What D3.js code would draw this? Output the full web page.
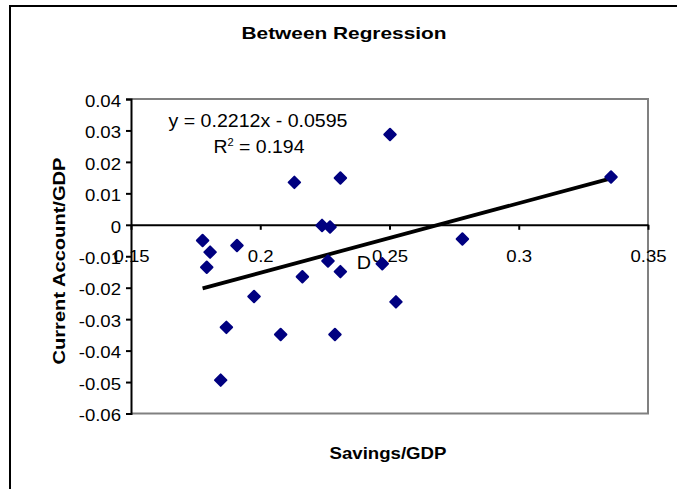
<!DOCTYPE html>
<html>
<head>
<meta charset="utf-8">
<script src="https://cdn.jsdelivr.net/npm/d3@7"></script>
<style>
  html, body { margin: 0; padding: 0; background: #fff; }
  svg { display: block; font-family: "Liberation Sans", Arial, sans-serif; }
</style>
</head>
<body>
<svg id="chart" width="677" height="489"></svg>
<script>
// ---- data ----
const savings = [0.2502, 0.3357, 0.2132, 0.2310, 0.2239, 0.2270, 0.1777, 0.1806, 0.1910, 0.1793, 0.2262,
                 0.2310, 0.2472, 0.2163, 0.1976, 0.2525, 0.1869, 0.2079, 0.2289, 0.1847, 0.2782];
const currentAccount = [0.0287, 0.0152, 0.0135, 0.0149, -0.0002, -0.0007, -0.0050, -0.0087, -0.0066, -0.0135, -0.0115,
                        -0.0149, -0.0124, -0.0165, -0.0228, -0.0245, -0.0326, -0.0349, -0.0349, -0.0494, -0.0045];
const xTicks = [0.15, 0.2, 0.25, 0.3, 0.35];
const xTickLabels = ["0.15", "0.2", "0.25", "0.3", "0.35"];
const yTicks = [0.04, 0.03, 0.02, 0.01, 0, -0.01, -0.02, -0.03, -0.04, -0.05, -0.06];
const yTickLabels = ["0.04", "0.03", "0.02", "0.01", "0", "-0.01", "-0.02", "-0.03", "-0.04", "-0.05", "-0.06"];
const trendSlope = 0.2212;
const trendIntercept = -0.0595;
const rSquared = "0.194";
const chartTitle = "Between Regression";
const xTitle = "Savings/GDP";
const yTitle = "Current Account/GDP";

const points = savings.map((s, i) => ({ x: s, y: currentAccount[i] }));

const svg = d3.select("#chart");
const x = d3.scaleLinear().domain([0.15, 0.35]).range([131, 648]);
const y = d3.scaleLinear().domain([-0.06, 0.04]).range([413.5, 99]);

// outer frame (cut off at right and bottom)
svg.append("path")
  .attr("d", "M10,500 L10,6 L690,6")
  .attr("fill", "none").attr("stroke", "#000").attr("stroke-width", 2);

// title
svg.append("text")
  .attr("x", 344).attr("y", 39)
  .attr("text-anchor", "middle")
  .attr("font-size", 16.5).attr("font-weight", "bold")
  .attr("textLength", 205).attr("lengthAdjust", "spacingAndGlyphs")
  .text(chartTitle);

// plot area border (gray top/right/bottom)
svg.append("path")
  .attr("d", `M${x(0.15)},${y(0.04)} L${x(0.35)},${y(0.04)} L${x(0.35)},${y(-0.06)} L${x(0.15)},${y(-0.06)}`)
  .attr("fill", "none").attr("stroke", "#808080").attr("stroke-width", 2);

// y axis
const yAxis = d3.axisLeft(y).tickValues(yTicks)
  .tickFormat((d, i) => yTickLabels[i]).tickSize(5).tickPadding(5);
const gy = svg.append("g").attr("transform", `translate(${x(0.15)},0)`).call(yAxis);
gy.select(".domain").attr("stroke", "#000").attr("stroke-width", 2);
gy.selectAll(".tick line").attr("stroke", "#000").attr("stroke-width", 2);
gy.selectAll(".tick text")
  .attr("font-size", 16).attr("font-family", "Liberation Sans, Arial, sans-serif")
  .attr("fill", "#000").attr("dy", "0.45em")
  .attr("transform", "translate(-10,0) scale(1.16,1) translate(10,0)");

// x axis at y = 0
const xAxis = d3.axisBottom(x).tickValues(xTicks)
  .tickFormat((d, i) => xTickLabels[i]).tickSize(5).tickPadding(21).tickSizeOuter(0);
const gx = svg.append("g").attr("transform", `translate(0,${y(0)})`).call(xAxis);
gx.select(".domain").attr("stroke", "#000").attr("stroke-width", 2);
gx.selectAll(".tick line").attr("stroke", "#000").attr("stroke-width", 2);
gx.selectAll(".tick text")
  .attr("font-size", 16).attr("font-family", "Liberation Sans, Arial, sans-serif")
  .attr("fill", "#000")
  .attr("transform", "scale(1.16,1)");

// trend line
const xExt = d3.extent(savings);
const trendData = xExt.map(v => ({ x: v, y: trendSlope * v + trendIntercept }));
svg.append("path")
  .datum(trendData)
  .attr("d", d3.line().x(d => x(d.x)).y(d => y(d.y)))
  .attr("fill", "none").attr("stroke", "#000").attr("stroke-width", 3.8);

// points (diamonds)
const diamond = d3.symbol().type(d3.symbolSquare).size(66)();
svg.append("g").selectAll("path")
  .data(points).join("path")
  .attr("d", diamond)
  .attr("transform", d => `translate(${x(d.x)},${y(d.y)}) rotate(45)`)
  .attr("fill", "#000080").attr("stroke", "#000080")
  .attr("stroke-width", 2).attr("stroke-linejoin", "round");

// equation label
svg.append("text")
  .attr("x", 258).attr("y", 127)
  .attr("text-anchor", "middle").attr("font-size", 17.5)
  .attr("textLength", 179).attr("lengthAdjust", "spacingAndGlyphs")
  .text(`y = ${trendSlope}x - ${Math.abs(trendIntercept)}`);
const r2 = svg.append("text")
  .attr("x", 259).attr("y", 153)
  .attr("text-anchor", "middle").attr("font-size", 17.5)
  .attr("textLength", 91).attr("lengthAdjust", "spacingAndGlyphs");
r2.append("tspan").text("R");
r2.append("tspan").attr("font-size", 10).attr("dy", -7).text("2");
r2.append("tspan").attr("dy", 7).text(` = ${rSquared}`);

// stray "D" label
svg.append("text")
  .attr("x", 364).attr("y", 269)
  .attr("text-anchor", "middle").attr("font-size", 18)
  .attr("transform", "translate(364,0) scale(1.1,1) translate(-364,0)")
  .text("D");

// axis titles
svg.append("text")
  .attr("x", 388).attr("y", 459)
  .attr("text-anchor", "middle")
  .attr("font-size", 17).attr("font-weight", "bold")
  .attr("textLength", 117).attr("lengthAdjust", "spacingAndGlyphs")
  .text(xTitle);
svg.append("text")
  .attr("transform", "translate(65,261) rotate(-90)")
  .attr("text-anchor", "middle")
  .attr("font-size", 17).attr("font-weight", "bold")
  .attr("textLength", 207).attr("lengthAdjust", "spacingAndGlyphs")
  .text(yTitle);
</script>
</body>
</html>
